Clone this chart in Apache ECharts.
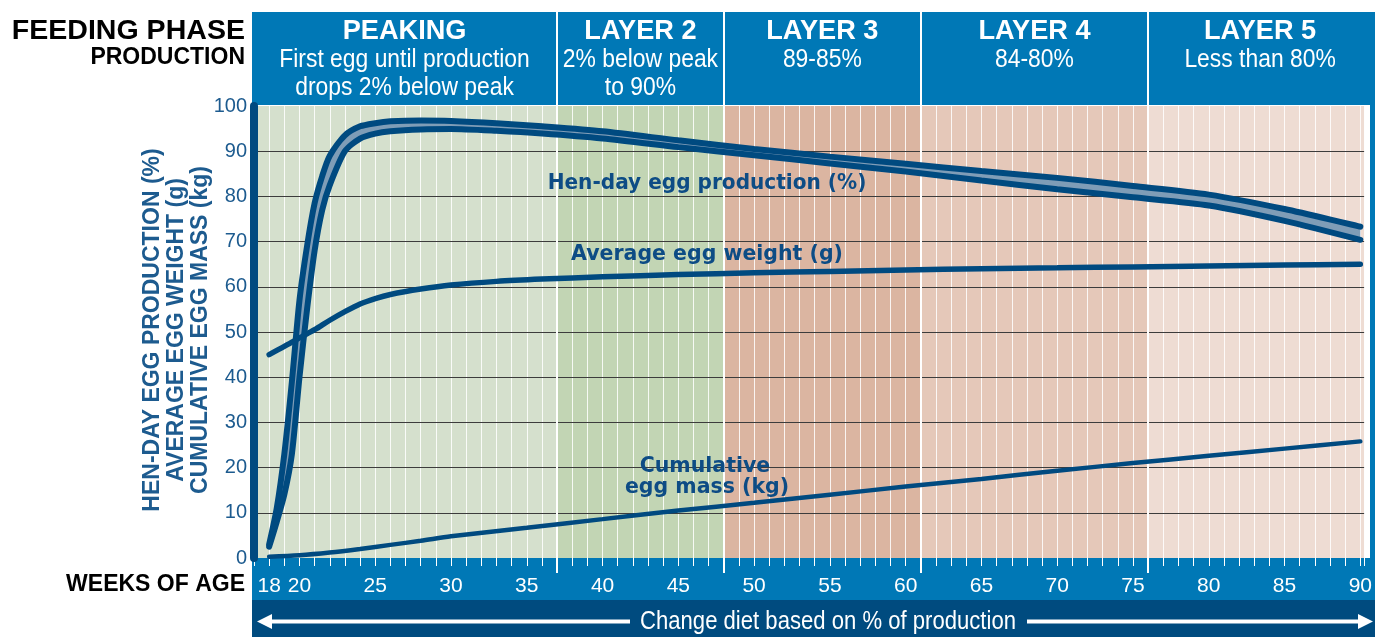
<!DOCTYPE html>
<html><head><meta charset="utf-8">
<script src="https://cdn.jsdelivr.net/npm/echarts@6/dist/echarts.min.js"></script>
<style>html,body{margin:0;padding:0;background:#fff}#c{width:1375px;height:637px}</style>
</head><body><div id="c"></div>
<script>
// ---------- data ----------
const weeks = [18,18.5,19,19.5,20,20.5,21,21.5,22,23,24,25,26,28,30,33,36,40,45,50,55,60,65,70,75,80,85,90];
const henDayUpper = [3,11,23,39,57,69,78.5,84.5,89,93.5,95.5,96.2,96.6,96.8,96.7,96.2,95.5,94.4,92.4,90.5,88.8,87.2,85.6,84.1,82.3,80.4,77.2,73.3];
const henDayLower = [2.5,8,14,23,40,55,68,77,82.5,90,92.8,93.9,94.4,94.8,94.9,94.5,93.9,92.8,90.9,89.1,87.3,85.5,83.5,81.6,79.8,78,74.6,70.4];
const weightWeeks = [18,19,20,21,22,23,24,25,26,28,30,33,36,40,45,50,55,60,65,70,75,80,85,90];
const eggWeight = [45,46.8,48.7,50.5,52.6,54.5,56.2,57.4,58.3,59.5,60.4,61.2,61.7,62.2,62.7,63.1,63.4,63.7,64.0,64.2,64.4,64.6,64.8,65.0];
const massWeeks = [18,20,22,24,26,28,30,35,40,45,50,55,60,65,70,75,80,85,90];
const eggMass = [0.3,0.6,1.2,2.0,2.9,3.8,4.8,6.7,8.6,10.5,12.2,14.0,15.8,17.5,19.3,21.0,22.6,24.2,25.8];
const weekLabels = [18,20,25,30,35,40,45,50,55,60,65,70,75,80,85,90];
const phaseNames = ['PEAKING','LAYER 2','LAYER 3','LAYER 4','LAYER 5'];
const phaseNotes = [['First egg until production','drops 2% below peak'],['2% below peak','to 90%'],['89-85%'],['84-80%'],['Less than 80%']];
const phaseStart = [17,37,48,61,76];
const phaseEnd = [37,48,61,76,90.25];
const yTitles = ['HEN-DAY EGG PRODUCTION (%)','AVERAGE EGG WEIGHT (g)','CUMULATIVE EGG MASS (kg)'];

// ---------- styles ----------
const NAVY = '#004a80';
const HEADER_BLUE = '#0078b6';
const BOTTOM_NAVY = '#004b7f';
const BAND_FILL = '#7f9db7';
const PHASE_FILL = ['#d5e0cd','#c2d5b4','#dbb5a1','#e5c8b9','#eedcd3'];
const TEXT_BLUE = '#0d4c85';
const AXIS_TEXT = '#1d5b8f';
const SANS = '"Liberation Sans",Arial,sans-serif';
const WIDE = '"DejaVu Sans",sans-serif';

const chart = echarts.init(document.getElementById('c'), null, {renderer:'canvas'});

const option = {
  animation:false,
  grid:{left:254,right:5,top:106,bottom:79},
  xAxis:{type:'value',min:17,max:90.25,interval:1,z:0,
    axisLine:{show:false},
    axisTick:{show:true,length:8,lineStyle:{color:'#ffffff',width:1}},
    axisLabel:{formatter:v=>weekLabels.includes(v)?String(v):'',color:'#ffffff',fontSize:21,fontFamily:SANS,margin:18},
    splitLine:{show:true,lineStyle:{color:'rgba(255,255,255,0.85)',width:1}}},
  yAxis:{type:'value',min:0,max:100,interval:10,z:1,
    axisLine:{show:true,lineStyle:{color:NAVY,width:8}},
    axisTick:{show:false},
    axisLabel:{color:AXIS_TEXT,fontSize:20,fontFamily:SANS,margin:7},
    splitLine:{show:true,showMinLine:false,showMaxLine:false,lineStyle:{color:'#3c3c3c',width:1.2}}},
  series:[
    {type:'line',name:'Cumulative egg mass (kg)',z:2,data:massWeeks.map((w,i)=>[w,eggMass[i]]),
      showSymbol:false,smooth:0.3,lineStyle:{color:NAVY,width:4.5,cap:'round'},
      markArea:{z:-1,silent:true,label:{show:false},
        data:phaseStart.map((s,i)=>[{xAxis:s,itemStyle:{color:PHASE_FILL[i],opacity:1}},{xAxis:phaseEnd[i]}])}},
    {type:'line',name:'Average egg weight (g)',z:2,data:weightWeeks.map((w,i)=>[w,eggWeight[i]]),
      showSymbol:false,smooth:0.3,lineStyle:{color:NAVY,width:5.5,cap:'round'}},
    {type:'custom',name:'band',z:2,coordinateSystem:'cartesian2d',silent:true,
      data:[[weeks[0],henDayUpper[0]]],encode:{x:0,y:1},
      renderItem:(params,api)=>{
        const pts=[];
        weeks.forEach((w,i)=>pts.push(api.coord([w,henDayUpper[i]])));
        for(let i=weeks.length-1;i>=0;i--) pts.push(api.coord([weeks[i],henDayLower[i]]));
        return {type:'polygon',shape:{points:pts},style:{fill:BAND_FILL}};
      }},
    {type:'line',name:'Hen-day upper',z:3,data:weeks.map((w,i)=>[w,henDayUpper[i]]),
      showSymbol:false,smooth:0.25,lineStyle:{color:NAVY,width:6,cap:'round'}},
    {type:'line',name:'Hen-day lower',z:3,data:weeks.map((w,i)=>[w,henDayLower[i]]),
      showSymbol:false,smooth:0.25,lineStyle:{color:NAVY,width:6,cap:'round'}}
  ]
};
chart.setOption(option);

// ---------- decorations computed through the axis scale ----------
const px = v => chart.convertToPixel({xAxisIndex:0}, v);
const g = [];
const L = 252, R = 1375;
const txt = (x,y,text,font,fill,align,sx,extra) => Object.assign({type:'text',z:10,x:x,y:y,scaleX:sx||1,
  style:{text:text,fill:fill,font:font,textAlign:align||'center',textVerticalAlign:'middle'}}, extra||{});
g.push({type:'rect',z:-10,shape:{x:L,y:12,width:R-L,height:93},style:{fill:HEADER_BLUE}});
g.push({type:'rect',z:-10,shape:{x:L,y:558,width:R-L,height:42},style:{fill:HEADER_BLUE}});
g.push({type:'rect',z:-10,shape:{x:L,y:600,width:R-L,height:37},style:{fill:BOTTOM_NAVY}});
g.push({type:'rect',z:-9,shape:{x:1370,y:12,width:5,height:588},style:{fill:HEADER_BLUE}});
phaseStart.slice(1).forEach(b=>{
  const x = Math.round(px(b));
  g.push({type:'line',z:1.5,shape:{x1:x,y1:12,x2:x,y2:573},style:{stroke:'#ffffff',lineWidth:2}});
});
phaseNames.forEach((n,i)=>{
  const x0 = i===0 ? L : px(phaseStart[i]);
  const x1 = i===phaseNames.length-1 ? 1372 : px(phaseEnd[i]);
  const cx = (x0+x1)/2;
  g.push(txt(cx,31,n,'bold 28px '+SANS,'#fff','center',0.97));
  phaseNotes[i].forEach((t,j)=>{
    g.push(txt(cx,60+j*28,t,'26px '+SANS,'#fff','center',0.88));
  });
});
// left labels
g.push(txt(245,31,'FEEDING PHASE','bold 28px '+SANS,'#000','right',1.02));
g.push(txt(245,58,'PRODUCTION','bold 23px '+SANS,'#000','right',1));
g.push(txt(245,585,'WEEKS OF AGE','bold 23px '+SANS,'#000','right',1));
// y titles
yTitles.forEach((t,i)=>{
  g.push(txt(153+i*24,330,t,'bold 23px '+SANS,AXIS_TEXT,'center',1,{rotation:Math.PI/2}));
});
// series annotations
g.push(txt(707,184,'Hen-day egg production (%)','bold 20.5px '+WIDE,TEXT_BLUE,'center',0.98));
g.push(txt(707,255,'Average egg weight (g)','bold 20.5px '+WIDE,TEXT_BLUE,'center',1));
g.push(txt(705,467,'Cumulative','bold 20.5px '+WIDE,TEXT_BLUE,'center',1));
g.push(txt(707,488,'egg mass (kg)','bold 20.5px '+WIDE,TEXT_BLUE,'center',1));
// bottom arrow + text
const ay = 621.5;
g.push({type:'rect',z:10,shape:{x:268,y:ay-2,width:362,height:4},style:{fill:'#fff'}});
g.push({type:'polygon',z:10,shape:{points:[[257,ay],[272,ay-7.5],[272,ay+7.5]]},style:{fill:'#fff'}});
g.push({type:'rect',z:10,shape:{x:1027,y:ay-2,width:335,height:4},style:{fill:'#fff'}});
g.push({type:'polygon',z:10,shape:{points:[[1373,ay],[1358,ay-7.5],[1358,ay+7.5]]},style:{fill:'#fff'}});
g.push(txt(828,ay,'Change diet based on % of production','26px '+SANS,'#fff','center',0.85));

chart.setOption({graphic:g});
</script></body></html>
